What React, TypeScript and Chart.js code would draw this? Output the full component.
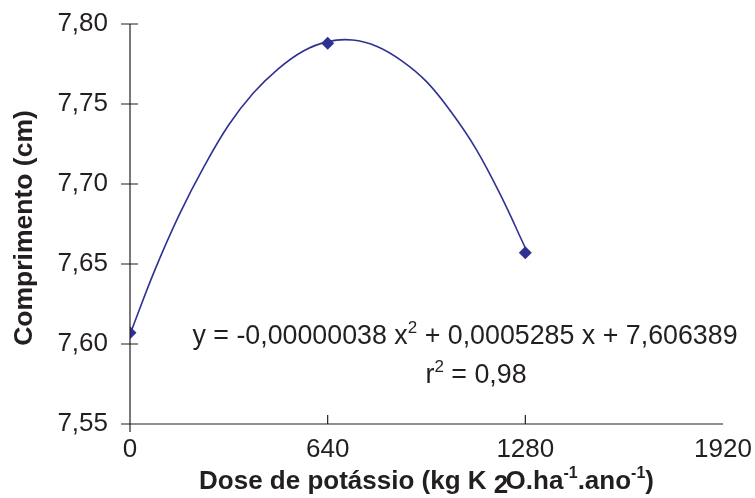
import React, { useEffect, useRef } from "react";
import { Chart, registerables } from "chart.js";

Chart.register(...registerables);

// Observed means
const doses = [0, 640, 1280];
const comprimento = [7.607, 7.788, 7.657];

// Fitted quadratic trend line
const curveX = [0, 80, 160, 240, 320, 400, 480, 560, 640, 720, 800, 880, 960, 1040, 1120, 1200, 1280];
const curveY = [7.606, 7.646, 7.681, 7.711, 7.737, 7.757, 7.772, 7.783, 7.789, 7.790, 7.786, 7.777, 7.764, 7.745, 7.722, 7.693, 7.660];

const xTicks = [0, 640, 1280, 1920];
const yTicks = [7.55, 7.6, 7.65, 7.7, 7.75, 7.8];

const yTitle = "Comprimento (cm)";
const equationText = "y = -0,00000038 x";
const equationRest = " + 0,0005285 x + 7,606389";
const r2Label = "r";
const r2Rest = " = 0,98";

const TEXT = "#231F20";
const BLUE = "#2E3192";
const FONT = "'Liberation Sans', Arial, sans-serif";

type Seg = { t: string; sup?: boolean; sub?: boolean };

function drawSegs(ctx: CanvasRenderingContext2D, segs: Seg[], cx: number, baseline: number, size: number, bold: boolean) {
  const w = bold ? "bold " : "";
  const fontFor = (s: Seg) => `${w}${s.sup ? Math.round(size * 0.62) : size}px ${FONT}`;
  const measure = (s: Seg) => {
    ctx.font = fontFor(s);
    return ctx.measureText(s.t).width - (s.sub ? size * 0.1 : 0);
  };
  const total = segs.reduce((a, s) => a + measure(s), 0);
  let x = cx - total / 2;
  ctx.textAlign = "left";
  ctx.textBaseline = "alphabetic";
  for (const s of segs) {
    const wd = measure(s);
    let y = baseline;
    if (s.sup) y = baseline - size * 0.42;
    if (s.sub) y = baseline + size * 0.15;
    ctx.font = fontFor(s);
    ctx.fillText(s.t, x, y);
    x += wd;
  }
}

const decorPlugin = {
  id: "decor",
  afterDraw(chart: any) {
    const { ctx, chartArea, scales } = chart;
    const xs = scales.x;
    const ys = scales.y;
    const left = chartArea.left;
    const bottom = chartArea.bottom;
    ctx.save();
    ctx.strokeStyle = TEXT;
    ctx.lineWidth = 1.2;
    ctx.beginPath();
    ctx.moveTo(left, ys.getPixelForValue(yTicks[yTicks.length - 1]));
    ctx.lineTo(left, bottom + 8);
    ctx.moveTo(left, bottom);
    ctx.lineTo(xs.getPixelForValue(xTicks[xTicks.length - 1]), bottom);
    for (const v of yTicks) {
      const py = ys.getPixelForValue(v);
      ctx.moveTo(left - 9, py);
      ctx.lineTo(left + 8, py);
    }
    for (const v of xTicks.slice(1, xTicks.length - 1)) {
      const px = xs.getPixelForValue(v);
      ctx.moveTo(px, bottom);
      ctx.lineTo(px, bottom - 9);
    }
    ctx.stroke();

    ctx.fillStyle = TEXT;
    drawSegs(ctx, [{ t: equationText }, { t: "2", sup: true }, { t: equationRest }], left + 335, 344, 26.8, false);
    drawSegs(ctx, [{ t: r2Label }, { t: "2", sup: true }, { t: r2Rest }], left + 346, 383, 26.8, false);

    const cx = (chartArea.left + chartArea.right) / 2;
    drawSegs(
      ctx,
      [
        { t: "Dose de potássio (kg K " },
        { t: "2", sub: true },
        { t: "O.ha" },
        { t: "-1", sup: true },
        { t: ".ano" },
        { t: "-1", sup: true },
        { t: ")" },
      ],
      cx,
      489,
      26,
      true
    );

    ctx.save();
    ctx.translate(32, 228);
    ctx.rotate(-Math.PI / 2);
    ctx.font = `bold 26.5px ${FONT}`;
    ctx.textAlign = "center";
    ctx.textBaseline = "alphabetic";
    ctx.fillText(yTitle, 0, 0);
    ctx.restore();

    ctx.restore();
  },
};

export default function App() {
  const ref = useRef<HTMLCanvasElement | null>(null);
  useEffect(() => {
    if (!ref.current) return;
    const chart = new Chart(ref.current, {
      type: "scatter",
      data: {
        datasets: [
          {
            label: "trend",
            data: curveX.map((x, i) => ({ x, y: curveY[i] })),
            showLine: true,
            borderColor: BLUE,
            borderWidth: 1.6,
            pointRadius: 0,
            tension: 0.4,
            fill: false,
          },
          {
            label: "Comprimento",
            data: doses.map((x, i) => ({ x, y: comprimento[i] })),
            pointStyle: "rectRot",
            pointRadius: 6.5,
            backgroundColor: BLUE,
            borderColor: BLUE,
            borderWidth: 0,
            showLine: false,
          },
        ],
      },
      options: {
        animation: false,
        responsive: true,
        maintainAspectRatio: false,
        layout: { padding: { left: 0, right: 32, top: 24, bottom: 0 } },
        plugins: { legend: { display: false }, tooltip: { enabled: false } },
        scales: {
          x: {
            type: "linear",
            min: 0,
            max: 1920,
            grid: { display: false, drawTicks: false },
            border: { display: false },
            afterBuildTicks: (s: any) => {
              s.ticks = xTicks.map((v) => ({ value: v }));
            },
            afterFit: (s: any) => {
              s.height = 74;
              s.paddingLeft = 0;
              s.paddingRight = 0;
            },
            ticks: {
              padding: 10,
              color: TEXT,
              font: { family: FONT, size: 26 },
              maxRotation: 0,
              callback: (v: any) => String(v),
            },
          },
          y: {
            type: "linear",
            min: 7.55,
            max: 7.8,
            grid: { display: false, drawTicks: false },
            border: { display: false },
            afterBuildTicks: (s: any) => {
              s.ticks = yTicks.map((v) => ({ value: v }));
            },
            afterFit: (s: any) => {
              s.width = 130;
              s.paddingTop = 0;
              s.paddingBottom = 0;
            },
            ticks: {
              padding: 22,
              color: TEXT,
              font: { family: FONT, size: 26 },
              callback: (v: any) => Number(v).toFixed(2).replace(".", ","),
            },
          },
        },
      },
      plugins: [decorPlugin],
    });
    return () => chart.destroy();
  }, []);
  return (
    <div style={{ position: "absolute", left: 0, top: 0, width: 755, height: 498, background: "#fff" }}>
      <canvas ref={ref} />
    </div>
  );
}
